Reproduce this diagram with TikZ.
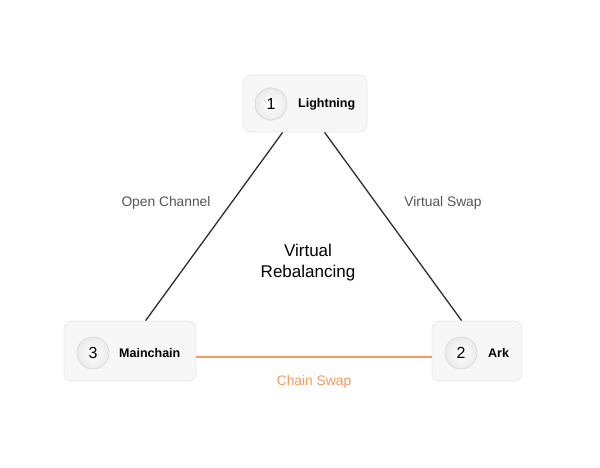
\documentclass[tikz,border=0pt]{standalone}
\usepackage{fontspec}
\setmainfont{Liberation Sans}
\usetikzlibrary{calc}
\definecolor{boxfill}{HTML}{F7F7F7}
\definecolor{boxline}{HTML}{EAEAEA}
\definecolor{circline}{HTML}{DADADA}
\definecolor{circout}{HTML}{EBEBEB}
\definecolor{edgegray}{HTML}{2E2E2E}
\definecolor{labelgray}{HTML}{555555}
\definecolor{chainorange}{HTML}{F79A5C}
\tikzset{
  stagebox/.style={draw=boxline, line width=0.8pt, fill=boxfill, rounded corners=8pt, inner sep=0pt},
  numcirc/.style={circle, draw=circline, line width=0.8pt, inner color=white, outer color=circout, minimum size=32pt, inner sep=0pt, font=\fontsize{16}{18}\selectfont},
  stagename/.style={anchor=west, inner sep=0pt, font=\bfseries\fontsize{12.5}{14}\selectfont},
  edgelabel/.style={text=labelgray, font=\fontsize{13.8}{16}\selectfont},
  linkline/.style={draw=edgegray, line width=1.3pt},
  chainline/.style={draw=chainorange, line width=1.6pt}
}
\begin{document}
\begin{tikzpicture}[x=1pt,y=-1pt]
\useasboundingbox (0,0) rectangle (600,467);
\fill[white] (0,0) rectangle (600,467);
% boxes
\node[stagebox, minimum width=124pt, minimum height=57pt] (b1) at (305,103.5) {};
\node[stagebox, minimum width=132pt, minimum height=60pt] (b3) at (130,351) {};
\node[stagebox, minimum width=90pt, minimum height=60pt] (b2) at (477,351) {};
% circles
\node[numcirc] (c1) at (271,104) {1};
\node[numcirc] (c3) at (93,353) {3};
\node[numcirc] (c2) at (461,353) {2};
% names
\node[stagename] (t1) at (298,104) {Lightning};
\node[stagename] (t3) at (119,353) {Mainchain};
\node[stagename] (t2) at (488,353) {Ark};
% connectors
\draw[linkline] ([xshift=40pt]b1.south west) -- ([xshift=82pt]b3.north west);
\draw[linkline] ([xshift=82pt]b1.south west) -- ([xshift=30pt]b2.north west);
\draw[chainline] ([yshift=-6pt]b3.east) -- ([yshift=-6pt]b2.west);
% labels
\node[edgelabel] (l1) at (166,203) {Open Channel};
\node[edgelabel] (l2) at (443,203) {Virtual Swap};
\node[text=chainorange, font=\fontsize{13.8}{16}\selectfont] (l3) at (314,382) {Chain Swap};
\node[align=center, font=\fontsize{17}{21}\selectfont] (mid) at (308,263) {Virtual\\Rebalancing};
\end{tikzpicture}
\end{document}
